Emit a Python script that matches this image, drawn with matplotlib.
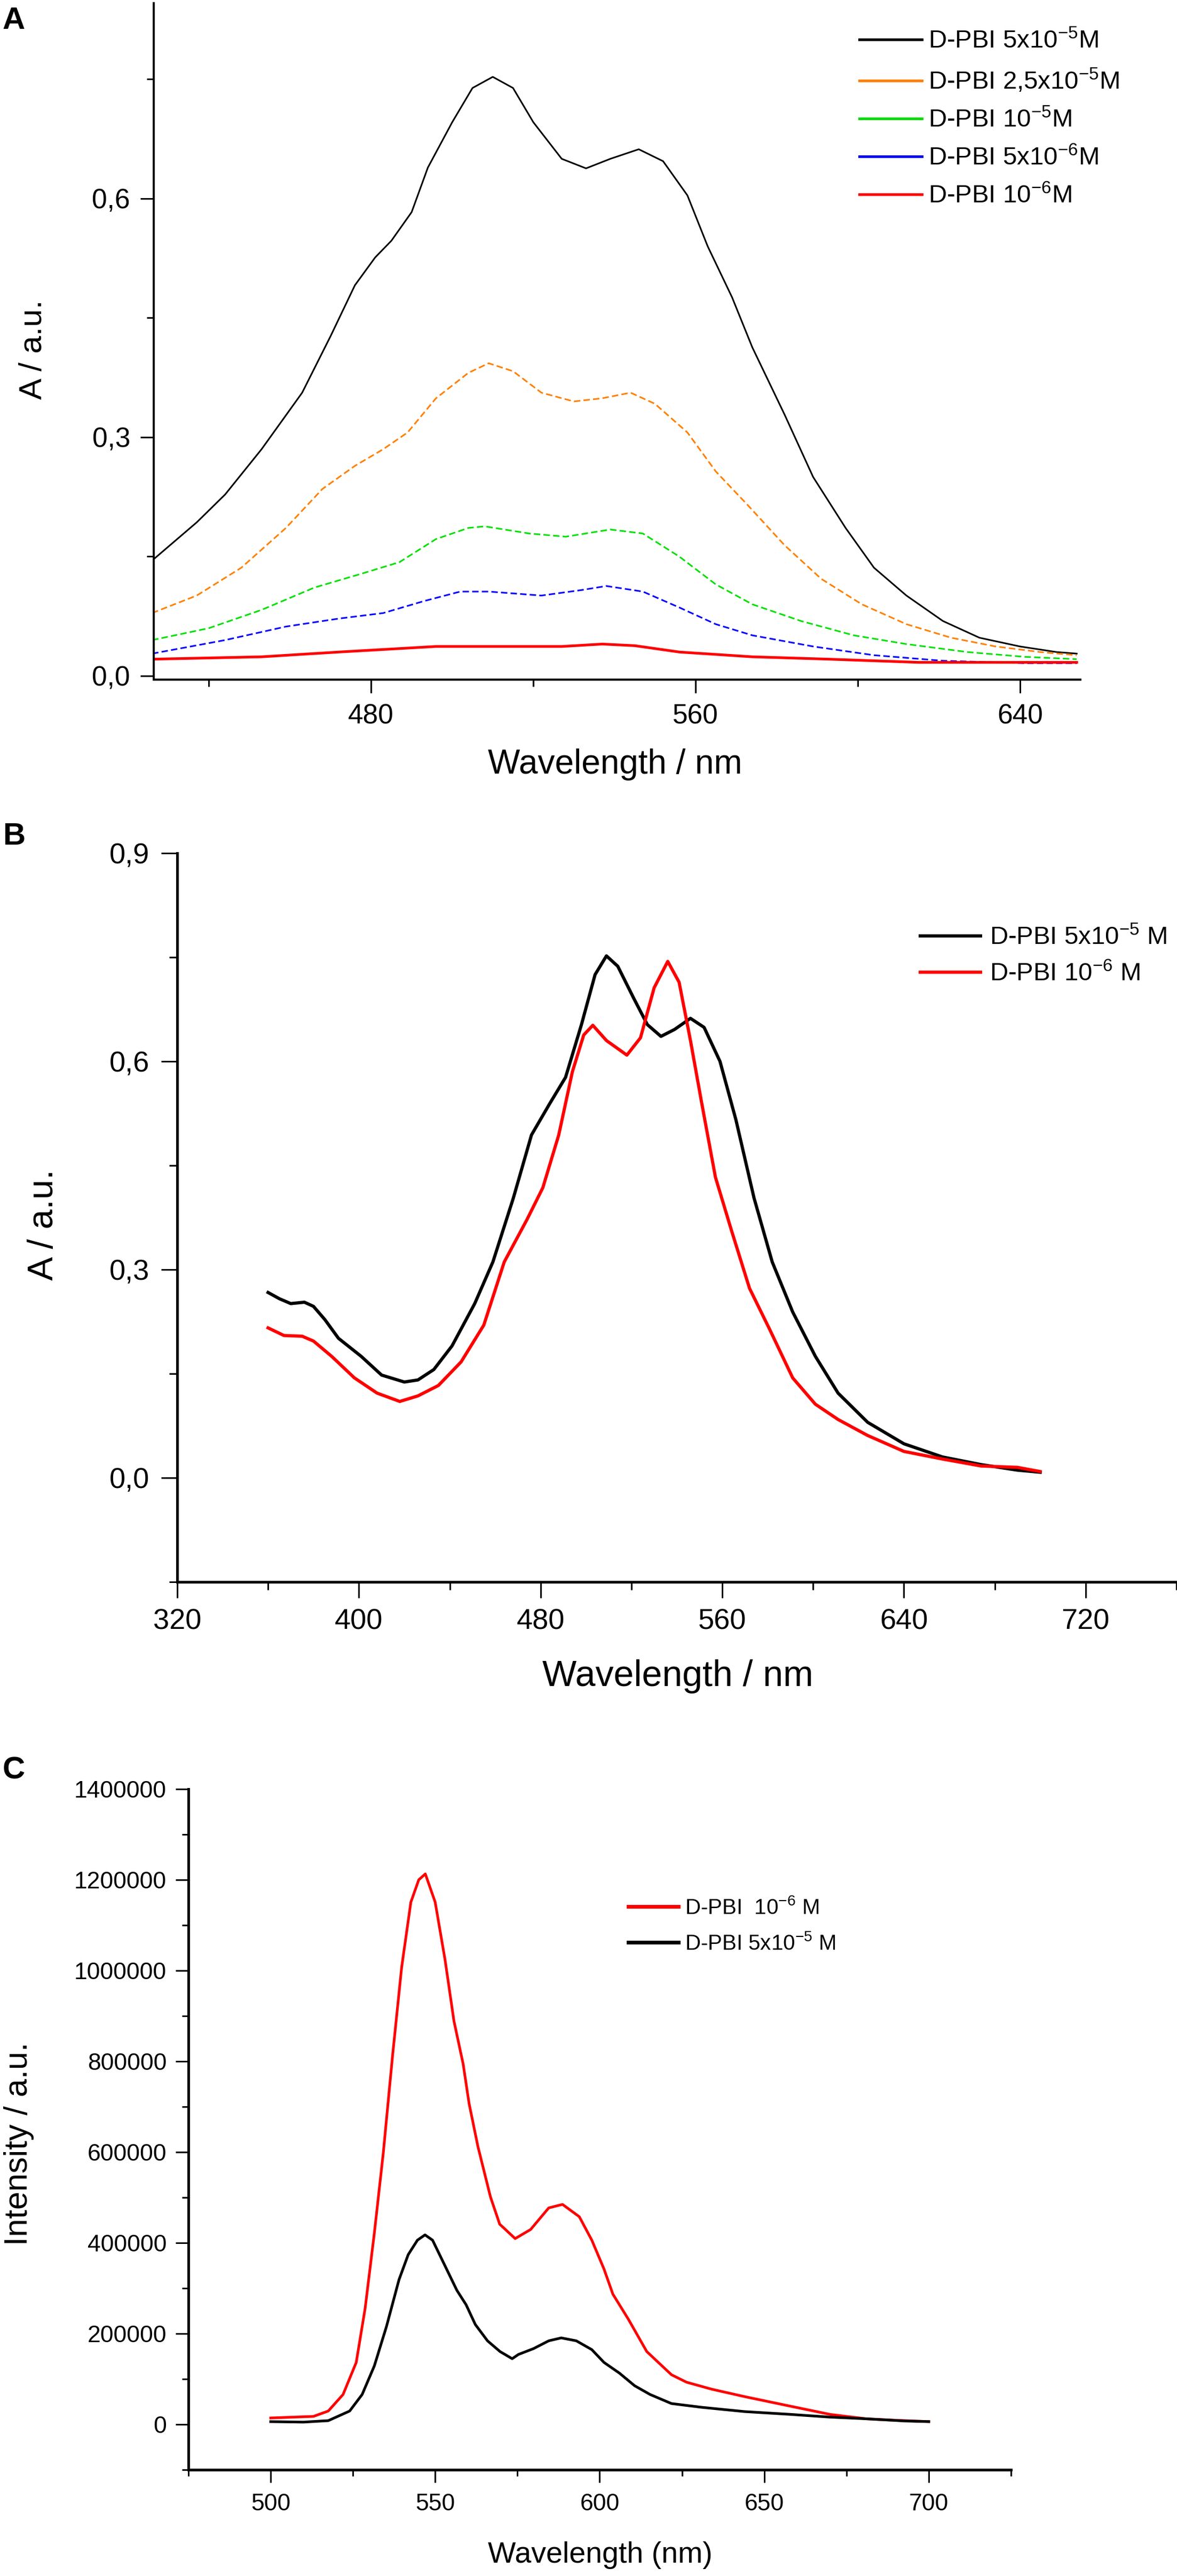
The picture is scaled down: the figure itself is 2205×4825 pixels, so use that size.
import matplotlib
matplotlib.use("Agg")
import matplotlib.pyplot as plt
from matplotlib.lines import Line2D
from matplotlib.ticker import FuncFormatter

plt.rcParams['font.family'] = ['Liberation Sans', 'DejaVu Sans']
plt.rcParams['mathtext.fontset'] = 'custom'
plt.rcParams['mathtext.rm'] = 'Liberation Sans'
plt.rcParams['mathtext.it'] = 'Liberation Sans'
plt.rcParams['mathtext.bf'] = 'Liberation Sans:bold'

# ---------------- Panel A data ----------------
a_wl_k = [426, 437, 444, 453, 463, 470, 476, 481, 485, 490, 494, 500, 505, 510, 515, 520, 527, 533, 539, 546, 552, 558, 563, 569, 574, 582, 589, 597, 604, 612, 621, 630, 640, 649, 654]
a_k = [0.145, 0.193, 0.228, 0.285, 0.356, 0.427, 0.491, 0.526, 0.547, 0.583, 0.639, 0.696, 0.739, 0.753, 0.739, 0.696, 0.650, 0.638, 0.650, 0.662, 0.647, 0.604, 0.540, 0.476, 0.413, 0.328, 0.250, 0.186, 0.136, 0.101, 0.069, 0.048, 0.037, 0.030, 0.028]

a_wl_o = [426, 437, 448, 459, 468, 476, 483, 489, 496, 504, 509, 515, 522, 530, 537, 544, 550, 558, 565, 573, 582, 591, 601, 612, 623, 634, 645, 654]
a_o = [0.079, 0.101, 0.136, 0.186, 0.235, 0.264, 0.285, 0.306, 0.349, 0.381, 0.393, 0.383, 0.356, 0.345, 0.349, 0.356, 0.342, 0.306, 0.257, 0.214, 0.164, 0.122, 0.090, 0.065, 0.048, 0.037, 0.030, 0.026]

a_wl_g = [426, 440, 453, 466, 478, 487, 496, 504, 508, 519, 528, 539, 547, 556, 565, 574, 586, 599, 612, 627, 641, 654]
a_g = [0.045, 0.060, 0.083, 0.111, 0.129, 0.143, 0.172, 0.186, 0.188, 0.179, 0.175, 0.184, 0.179, 0.150, 0.115, 0.090, 0.069, 0.051, 0.040, 0.030, 0.024, 0.021]

a_wl_b = [426, 444, 459, 472, 483, 493, 502, 509, 522, 532, 538, 547, 556, 565, 574, 589, 604, 621, 641, 654]
a_b = [0.028, 0.045, 0.062, 0.072, 0.079, 0.094, 0.106, 0.106, 0.101, 0.108, 0.113, 0.106, 0.086, 0.065, 0.051, 0.037, 0.026, 0.019, 0.016, 0.016]

a_wl_r = [426, 453, 472, 496, 527, 537, 545, 556, 574, 593, 615, 654]
a_r = [0.021, 0.024, 0.030, 0.037, 0.037, 0.040, 0.038, 0.030, 0.024, 0.021, 0.017, 0.017]

a_labels = ['D-PBI 5x10$^{\\mathregular{-5}}$M', 'D-PBI 2,5x10$^{\\mathregular{-5}}$M',
            'D-PBI 10$^{\\mathregular{-5}}$M', 'D-PBI 5x10$^{\\mathregular{-6}}$M',
            'D-PBI 10$^{\\mathregular{-6}}$M']
a_colors = ['#000000', '#ff8000', '#00e000', '#0000ff', '#ff0000']
a_yticks = [0.0, 0.3, 0.6]
a_yticklabels = ['0,0', '0,3', '0,6']
a_xticks = [480, 560, 640]

# ---------------- Panel B data ----------------
b_wl_k = [360, 365, 370, 376, 380, 385, 391, 401, 410, 420, 426, 433, 441, 451, 459, 468, 476, 484, 491, 498, 504, 509, 514, 521, 527, 533, 539, 546, 552, 559, 566, 574, 582, 591, 601, 611, 624, 640, 657, 674, 690, 700]
b_k = [0.267, 0.258, 0.251, 0.253, 0.247, 0.228, 0.201, 0.175, 0.148, 0.138, 0.141, 0.156, 0.190, 0.251, 0.311, 0.403, 0.494, 0.539, 0.577, 0.653, 0.725, 0.752, 0.737, 0.691, 0.653, 0.636, 0.646, 0.662, 0.649, 0.600, 0.516, 0.403, 0.311, 0.239, 0.175, 0.122, 0.080, 0.049, 0.030, 0.019, 0.011, 0.008]

b_wl_r = [360, 367, 375, 380, 388, 398, 408, 418, 426, 435, 445, 455, 464, 474, 481, 488, 494, 499, 503, 509, 518, 524, 530, 536, 541, 546, 551, 557, 564, 572, 581, 591, 601, 611, 624, 640, 657, 674, 690, 700]
b_r = [0.216, 0.205, 0.204, 0.197, 0.175, 0.144, 0.122, 0.110, 0.118, 0.133, 0.167, 0.220, 0.311, 0.372, 0.418, 0.494, 0.585, 0.638, 0.652, 0.630, 0.609, 0.634, 0.706, 0.744, 0.714, 0.630, 0.539, 0.433, 0.357, 0.273, 0.213, 0.144, 0.106, 0.084, 0.061, 0.038, 0.027, 0.017, 0.015, 0.009]

b_labels = ['D-PBI 5x10$^{\\mathregular{-5}}$ M', 'D-PBI 10$^{\\mathregular{-6}}$ M']
b_yticks = [0.0, 0.3, 0.6, 0.9]
b_yticklabels = ['0,0', '0,3', '0,6', '0,9']
b_xticks = [320, 400, 480, 560, 640, 720]

# ---------------- Panel C data ----------------
c_wl_r = [500, 513, 517.5, 522, 526, 528.7, 531.5, 534.2, 537, 539.8, 542.6, 545, 547, 550, 553, 555.7, 558.5, 560.3, 563, 566.8, 569.6, 574.3, 579, 584.5, 588.7, 593.8, 597.6, 601.3, 604, 608.7, 614.3, 621.8, 626.4, 634, 644, 658, 670, 681, 690, 700]
c_r = [14100, 17600, 29400, 65900, 136500, 255300, 421200, 596500, 809400, 1007000, 1150600, 1200000, 1213000, 1150600, 1023500, 888800, 794000, 707000, 611800, 501200, 441200, 409400, 429400, 477000, 484700, 457600, 405900, 342400, 287000, 231800, 160500, 109400, 92900, 77600, 61200, 40000, 22000, 12300, 9000, 6100]

c_wl_k = [500, 510, 517.5, 524, 527.8, 531.5, 535.2, 539, 541.8, 544.6, 546.9, 549.2, 552.9, 556.6, 559.4, 562.2, 565.9, 569.7, 573.4, 575.3, 579.9, 584.5, 588.3, 592.9, 597.6, 601.3, 606, 610.6, 615.3, 621.8, 631, 644, 658, 670, 681, 693, 700]
c_k = [6000, 5000, 8200, 29400, 65900, 128800, 215900, 318800, 374100, 405900, 417600, 405900, 350600, 295300, 263500, 220000, 184100, 160500, 144700, 154100, 167000, 184100, 190600, 184100, 164700, 136500, 112900, 85200, 65900, 45900, 37600, 28200, 22000, 16000, 12300, 7400, 6100]

c_labels = ['D-PBI  10$^{\\mathregular{-6}}$ M', 'D-PBI 5x10$^{\\mathregular{-5}}$ M']
c_xticks = [500, 550, 600, 650, 700]
c_yticks = [0, 200000, 400000, 600000, 800000, 1000000, 1200000, 1400000]

# ---------------- Figure ----------------
W, H = 2205, 4825
DPI = 100
fig = plt.figure(figsize=(W / DPI, H / DPI), dpi=DPI)
PX = 72.0 / DPI  # points per pixel


def add_ax(left, right, top, bottom):
    return fig.add_axes([left / W, 1 - bottom / H, (right - left) / W, (bottom - top) / H])


def style_ax(ax, spine_px, maj_px, min_px, tick_w_px, xpad_px, ypad_px, fs):
    for s in ['top', 'right']:
        ax.spines[s].set_visible(False)
    for s in ['left', 'bottom']:
        ax.spines[s].set_linewidth(spine_px * PX)
    ax.tick_params(which='major', direction='out', length=maj_px * PX, width=tick_w_px * PX,
                   labelsize=fs)
    ax.tick_params(which='minor', direction='out', length=min_px * PX, width=tick_w_px * PX)
    ax.tick_params(axis='x', which='major', pad=xpad_px * PX)
    ax.tick_params(axis='y', which='major', pad=ypad_px * PX)


def place_labels(ax, xlab, xfs, xpos, ylab, yfs, ypos):
    ax.set_xlabel(xlab, fontsize=xfs, va='center', ha='center')
    ax.xaxis.set_label_coords(xpos[0] / W, 1 - xpos[1] / H, transform=fig.transFigure)
    ax.set_ylabel(ylab, fontsize=yfs, va='center', ha='center')
    ax.yaxis.set_label_coords(ypos[0] / W, 1 - ypos[1] / H, transform=fig.transFigure)


def legend_px(ax, handles, labels, x_px, y_px, **kw):
    return ax.legend(handles, labels, loc='upper left',
                     bbox_to_anchor=(x_px / W, 1 - y_px / H), bbox_transform=fig.transFigure,
                     frameon=False, borderaxespad=0, borderpad=0, **kw)


def fig_text_px(x, y, s, **kw):
    fig.text(x / W, 1 - y / H, s, **kw)


# ---- Panel A ----
axA = add_ax(288, 2024, 6, 1273)
axA.plot(a_wl_k, a_k, color=a_colors[0], lw=3 * PX)
axA.plot(a_wl_o, a_o, color=a_colors[1], lw=3 * PX, dashes=(4, 2))
axA.plot(a_wl_g, a_g, color=a_colors[2], lw=3 * PX, dashes=(4, 2))
axA.plot(a_wl_b, a_b, color=a_colors[3], lw=3 * PX, dashes=(4, 2))
axA.plot(a_wl_r, a_r, color=a_colors[4], lw=5 * PX)
axA.set_xlim(426.4, 654.9)
axA.set_ylim(-0.0047, 0.8456)
axA.set_xticks(a_xticks)
axA.set_xticks([440, 520, 600], minor=True)
axA.set_yticks(a_yticks)
axA.set_yticklabels(a_yticklabels)
axA.set_yticks([0.15, 0.45, 0.75], minor=True)
style_ax(axA, 4, 25, 13, 3, 20, 19, 37)
place_labels(axA, 'Wavelength / nm', 46, (1152, 1432), 'A / a.u.', 43, (62, 655))
handlesA = [Line2D([], [], color=c, lw=5 * PX) for c in a_colors]
legend_px(axA, handlesA, a_labels, 1610, 55, fontsize=34, handlelength=2.48,
          handletextpad=0.25, labelspacing=0.55)
fig_text_px(5, 12, 'A', fontsize=42, fontweight='bold', va='top', ha='left')

# ---- Panel B ----
axB = add_ax(332, 2204, 1598, 2963)
axB.plot(b_wl_k, b_k, color='#000000', lw=6 * PX)
axB.plot(b_wl_r, b_r, color='#ff0000', lw=6 * PX)
axB.set_xlim(320, 760)
axB.set_ylim(-0.15, 0.9)
axB.set_xticks(b_xticks)
axB.set_xticks([360, 440, 520, 600, 680, 760], minor=True)
axB.set_yticks(b_yticks)
axB.set_yticklabels(b_yticklabels)
axB.set_yticks([-0.15, 0.15, 0.45, 0.75], minor=True)
style_ax(axB, 5, 30, 15, 3, 20, 22, 39)
place_labels(axB, 'Wavelength / nm', 49, (1270, 3140), 'A / a.u.', 48, (82, 2294))
handlesB = [Line2D([], [], color='#000000', lw=6 * PX), Line2D([], [], color='#ff0000', lw=6 * PX)]
legend_px(axB, handlesB, b_labels, 1724, 1734, fontsize=34, handlelength=2.4,
          handletextpad=0.35, labelspacing=0.5)
fig_text_px(5, 1540, 'B', fontsize=42, fontweight='bold', va='top', ha='left')

# ---- Panel C ----
axC = add_ax(353, 1894, 3351, 4626)
axC.plot(c_wl_r, c_r, color='#ff0000', lw=5 * PX)
axC.plot(c_wl_k, c_k, color='#000000', lw=5 * PX)
axC.set_xlim(475, 725)
axC.set_ylim(-100000, 1400000)
axC.set_xticks(c_xticks)
axC.set_xticks([475, 525, 575, 625, 675, 725], minor=True)
axC.set_yticks(c_yticks)
axC.set_yticks([-100000, 100000, 300000, 500000, 700000, 900000, 1100000, 1300000], minor=True)
axC.yaxis.set_major_formatter(FuncFormatter(lambda v, p: '%d' % v))
style_ax(axC, 5, 24, 12, 3, 20, 17, 32)
place_labels(axC, 'Wavelength (nm)', 40, (1124, 4786), 'Intensity / a.u.', 44, (36, 4016))
handlesC = [Line2D([], [], color='#ff0000', lw=7 * PX), Line2D([], [], color='#000000', lw=7 * PX)]
legend_px(axC, handlesC, c_labels, 1177, 3554, fontsize=29, handlelength=2.33,
          handletextpad=0.3, labelspacing=0.7)
fig_text_px(5, 3290, 'C', fontsize=42, fontweight='bold', va='top', ha='left')

fig.savefig('out.png', dpi=DPI, facecolor='white')
